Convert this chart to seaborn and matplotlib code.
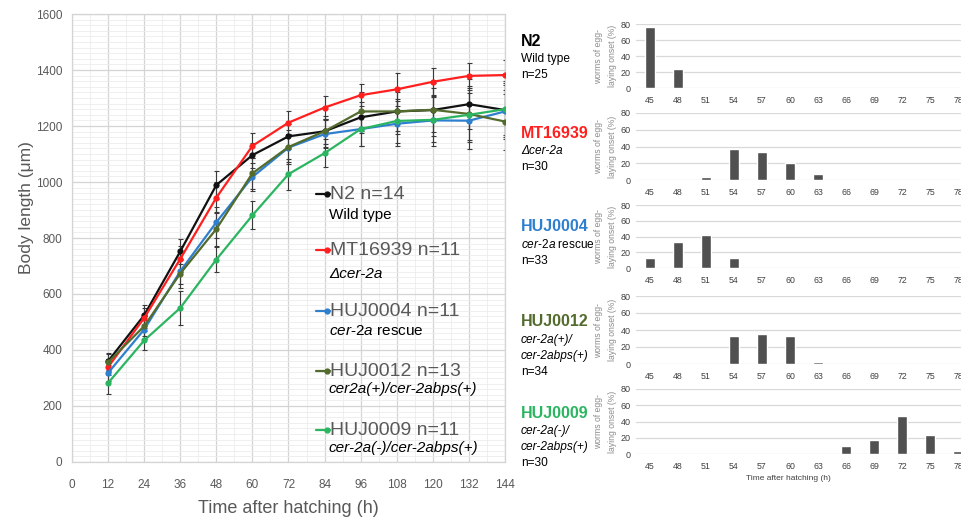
import numpy as np
import pandas as pd
import seaborn as sns
import matplotlib.pyplot as plt
from matplotlib.ticker import MultipleLocator

# body length growth curves (mean +- sd, um)
hours = [12, 24, 36, 48, 60, 72, 84, 96, 108, 120, 132, 144]
strains = ['N2', 'MT16939', 'HUJ0004', 'HUJ0012', 'HUJ0009']
n2_len = [360, 524, 752, 989, 1096, 1163, 1181, 1231, 1252, 1257, 1278, 1257]
mt_len = [339, 514, 725, 944, 1129, 1212, 1266, 1310, 1331, 1358, 1379, 1382]
huj4_len = [318, 473, 681, 856, 1018, 1123, 1171, 1189, 1208, 1220, 1219, 1252]
huj12_len = [356, 485, 673, 832, 1031, 1125, 1181, 1252, 1252, 1258, 1243, 1216]
huj9_len = [282, 434, 550, 723, 881, 1028, 1103, 1189, 1218, 1222, 1240, 1260]
n2_sd = [30, 35, 45, 50, 45, 45, 45, 55, 70, 80, 90, 90]
mt_sd = [30, 35, 45, 55, 45, 40, 40, 40, 60, 50, 45, 55]
huj4_sd = [30, 35, 45, 55, 50, 50, 50, 60, 80, 90, 100, 100]
huj12_sd = [30, 35, 50, 60, 55, 60, 55, 70, 80, 95, 100, 100]
huj9_sd = [40, 35, 60, 45, 50, 55, 50, 60, 80, 80, 90, 100]
legend_main = ['N2 n=14', 'MT16939 n=11', 'HUJ0004 n=11', 'HUJ0012 n=13', 'HUJ0009 n=11']
legend_sub = ['Wild type', '\u0394cer-2a', r'$\mathit{cer}$-$\mathit{2a}$ rescue',
              'cer2a(+)/cer-2abps(+)', 'cer-2a(-)/cer-2abps(+)']
legend_sub_style = ['normal', 'italic', 'normal', 'italic', 'italic']

# egg-laying onset (% of worms)
onset_hours = [45, 48, 51, 54, 57, 60, 63, 66, 69, 72, 75, 78]
n2_onset = [76, 24, 0, 0, 0, 0, 0, 0, 0, 0, 0, 0]
mt_onset = [0, 0, 3.3, 36.7, 33.3, 20, 6.7, 0, 0, 0, 0, 0]
huj4_onset = [12.1, 33.3, 42.4, 12.1, 0, 0, 0, 0, 0, 0, 0, 0]
huj12_onset = [0, 0, 0, 32.4, 35.3, 32.4, 2.9, 0, 0, 0, 0, 0]
huj9_onset = [0, 0, 0, 0, 0, 0, 0, 10, 16.7, 46.7, 23.3, 3.3]
panel_name = ['N2', 'MT16939', 'HUJ0004', 'HUJ0012', 'HUJ0009']
panel_sub = [[('Wild type', 'normal'), ('n=25', 'normal')],
             [('\u0394cer-2a', 'italic'), ('n=30', 'normal')],
             [(r'$\mathit{cer}$-$\mathit{2a}$ rescue', 'normal'), ('n=33', 'normal')],
             [('cer-2a(+)/', 'italic'), ('cer-2abps(+)', 'italic'), ('n=34', 'normal')],
             [('cer-2a(-)/', 'italic'), ('cer-2abps(+)', 'italic'), ('n=30', 'normal')]]

colors = ['#111111', '#ff1f1f', '#2f7fcf', '#536b2c', '#2cb561']
gray = '#595959'

sns.set_theme(style='white')
plt.rcParams['font.family'] = ['Liberation Sans', 'DejaVu Sans']
plt.rcParams['mathtext.fontset'] = 'custom'
plt.rcParams['mathtext.rm'] = 'Liberation Sans'
plt.rcParams['mathtext.it'] = 'Liberation Sans:italic'

lengths = [n2_len, mt_len, huj4_len, huj12_len, huj9_len]
sds = [n2_sd, mt_sd, huj4_sd, huj12_sd, huj9_sd]
df = pd.DataFrame({
    'time': np.tile(hours, len(strains)),
    'length': np.concatenate(lengths),
    'sd': np.concatenate(sds),
    'strain': np.repeat(strains, len(hours)),
})

fig = plt.figure(figsize=(9.61, 5.17), dpi=100)

# ---- left: growth curves
ax = fig.add_axes([0.0749, 0.1064, 0.4506, 0.8665])
sns.lineplot(data=df, x='time', y='length', hue='strain', palette=colors, marker='o',
             markersize=4.5, markeredgewidth=0, linewidth=1.6, legend=False, errorbar=None,
             ax=ax, zorder=3)
for s in strains:
    d = df[df['strain'] == s]
    ax.errorbar(d['time'], d['length'], yerr=d['sd'], fmt='none', ecolor='#3a3a3a',
                elinewidth=0.8, capsize=1.8, capthick=0.8, zorder=2.5)

ax.set_xlim(0, 144)
ax.set_ylim(0, 1600)
ax.xaxis.set_major_locator(MultipleLocator(12))
ax.xaxis.set_minor_locator(MultipleLocator(6))
ax.yaxis.set_major_locator(MultipleLocator(200))
ax.yaxis.set_minor_locator(MultipleLocator(20))
ax.grid(which='major', color='#d4d4d4', linewidth=0.9)
ax.grid(which='minor', color='#ececec', linewidth=0.6)
ax.set_axisbelow(True)
for sp in ax.spines.values():
    sp.set_color('#d4d4d4')
    sp.set_linewidth(0.9)
ax.tick_params(axis='y', length=0, labelsize=8.5, labelcolor=gray, pad=7)
ax.tick_params(axis='x', length=0, labelsize=8.5, labelcolor=gray, pad=12)
ax.set_xlabel('Time after hatching (h)', fontsize=13, color=gray, labelpad=7)
ax.set_ylabel('Body length (\u03bcm)', fontsize=12.5, color=gray)
ax.yaxis.set_label_coords(-0.088, 0.569)

# hand-made legend
main_y = [0.598, 0.473, 0.337, 0.203, 0.071]
sub_y = [0.552, 0.420, 0.293, 0.163, 0.031]
for c, lab, sub, st, my, sy in zip(colors, legend_main, legend_sub, legend_sub_style, main_y, sub_y):
    ax.plot([0.5635, 0.596], [my, my], color=c, linewidth=1.6, transform=ax.transAxes, zorder=4)
    ax.plot([0.590], [my], 'o', color=c, markersize=3.5, transform=ax.transAxes, zorder=4)
    ax.text(0.597, my, lab, transform=ax.transAxes, fontsize=14, color=gray,
            va='center', ha='left')
    ax.text(0.5935, sy, sub, transform=ax.transAxes, fontsize=11, color='black',
            style=st, va='center', ha='left')

# ---- right: egg-laying onset histograms
onsets = [n2_onset, mt_onset, huj4_onset, huj12_onset, huj9_onset]
bounds = [(88, 24), (180, 113), (268, 205), (364, 296), (454, 389)]
name_y = [41, 133, 227, 322, 413]
for i, (vals, (y0, y1)) in enumerate(zip(onsets, bounds)):
    bx = fig.add_axes([636 / 961, 1 - y0 / 517, 336 / 961, (y0 - y1) / 517])
    bdf = pd.DataFrame({'hour': [str(h) for h in onset_hours], 'pct': vals})
    sns.barplot(data=bdf, x='hour', y='pct', color='#505050', width=0.38, saturation=1, ax=bx)
    bx.set_ylim(0, 80)
    bx.set_xlim(-0.5, 11.5)
    bx.set_yticks([0, 20, 40, 60, 80])
    bx.grid(axis='y', color='#d9d9d9', linewidth=0.9)
    bx.set_axisbelow(True)
    for sp in bx.spines.values():
        sp.set_visible(False)
    bx.tick_params(axis='y', length=0, labelsize=6.5, labelcolor='#404040', pad=4)
    bx.tick_params(axis='x', length=0, labelsize=6.3, labelcolor='#404040', pad=6)
    bx.set_xlabel('')
    bx.set_ylabel('worms of egg-\nlaying onset (%)', fontsize=6.2, color='#8c8c8c', linespacing=1.8)
    bx.yaxis.set_label_coords(-0.056, 0.5)

    fig.text(521 / 961, 1 - name_y[i] / 517, panel_name[i], fontsize=11.5, fontweight='bold',
             color=colors[i] if i > 0 else 'black', va='center')
    for j, (line, st) in enumerate(panel_sub[i]):
        yy = name_y[i] + 18 + j * 16
        fig.text(521 / 961, 1 - yy / 517, line, fontsize=8.6, color='black', style=st, va='center')

fig.text(788 / 961, 1 - 478 / 517, 'Time after hatching (h)', fontsize=6, color='#404040',
         ha='center', va='center')

fig.savefig('out.png', dpi=100)
